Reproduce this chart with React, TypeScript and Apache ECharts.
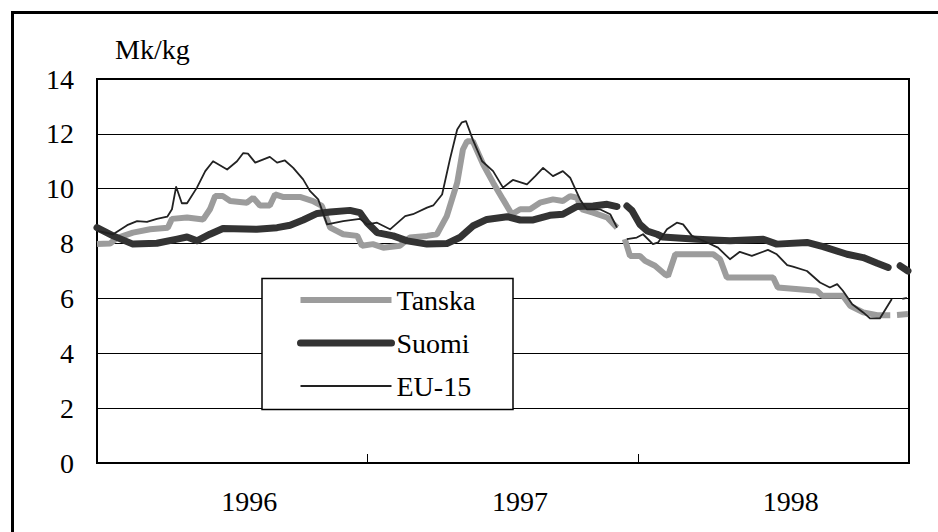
import React, { useEffect, useRef } from "react";
import * as echarts from "echarts";

// x positions are in weeks from the start of 1996 (156 weeks = 3 years)
const yearLabels = ["1996", "1997", "1998"];
const seriesNames = ["Tanska", "Suomi", "EU-15"];

const tanskaWeeks = [0, 2.5, 3.8, 6.9, 10.2, 13.6, 14.4, 17.3, 20.4, 21.7, 22.7, 24.2, 25.6, 28.8, 30.0, 31.3, 33.2, 34.2, 35.7, 39.0, 41.5, 43.2, 44.8, 47.3, 50.0, 50.9, 53.0, 55.0, 58.2, 60.1, 63.4, 65.3, 67.2, 69.2, 70.3, 71.1, 72.2, 74.2, 76.1, 78.0, 79.7, 81.3, 83.2, 85.1, 87.6, 89.5, 90.9, 92.2, 93.2, 95.3, 98.0, 99.9, 100.7, 101.4, 102.4, 104.3, 105.3, 107.2, 109.1, 109.7, 111.1, 118.4, 119.7, 121.0, 129.9, 130.8, 138.3, 139.3, 143.3, 144.7, 147.2, 149.9, 152.4, 153.0, 153.7, 155.8];
const tanskaValues = [7.98, 8.0, 8.2, 8.4, 8.52, 8.58, 8.9, 8.95, 8.88, 9.25, 9.73, 9.73, 9.55, 9.49, 9.67, 9.39, 9.39, 9.79, 9.7, 9.7, 9.55, 9.37, 8.58, 8.34, 8.28, 7.92, 7.98, 7.85, 7.92, 8.22, 8.28, 8.34, 9.0, 10.22, 11.43, 11.73, 11.73, 10.88, 10.22, 9.61, 9.07, 9.25, 9.25, 9.49, 9.61, 9.55, 9.73, 9.67, 9.25, 9.13, 8.95, 8.58, null, 8.16, 7.55, 7.55, 7.37, 7.19, 6.88, 6.82, 7.61, 7.61, 7.43, 6.76, 6.76, 6.4, 6.28, 6.1, 6.1, 5.73, 5.49, 5.39, 5.39, null, 5.4, 5.43];

const suomiWeeks = [0, 3.1, 6.9, 11.5, 15.4, 17.3, 19.2, 21.7, 24.2, 30.7, 34.6, 37.1, 39.6, 42.3, 44.8, 48.6, 50.5, 51.9, 53.8, 56.9, 59.6, 63.4, 67.2, 69.7, 72.2, 74.9, 78.8, 81.3, 83.8, 87.0, 89.5, 92.2, 95.3, 98.0, 99.9, 100.9, 101.8, 102.8, 104.3, 105.7, 107.6, 108.7, 115.3, 121.6, 128.0, 130.6, 136.4, 139.5, 144.1, 147.2, 149.9, 152.0, 153.1, 154.3, 155.8];
const suomiValues = [8.58, 8.28, 7.98, 8.01, 8.16, 8.24, 8.1, 8.34, 8.55, 8.52, 8.58, 8.67, 8.86, 9.1, 9.15, 9.21, 9.13, 8.76, 8.4, 8.28, 8.1, 7.98, 8.0, 8.22, 8.64, 8.88, 8.98, 8.86, 8.86, 9.03, 9.07, 9.35, 9.37, 9.43, 9.35, null, 9.37, 9.2, 8.7, 8.46, 8.34, 8.24, 8.16, 8.1, 8.16, 7.98, 8.04, 7.89, 7.61, 7.49, 7.28, 7.13, null, 7.19, 7.0];

const euWeeks = [0, 3.1, 5.8, 7.7, 9.6, 11.5, 13.5, 14.4, 15.2, 16.3, 17.3, 19.2, 20.8, 22.3, 25.0, 26.9, 28.1, 29.0, 30.4, 33.2, 34.6, 36.1, 37.7, 39.6, 40.9, 42.5, 44.2, 47.3, 50.5, 51.9, 53.8, 56.3, 59.2, 60.7, 63.4, 64.6, 66.3, 67.8, 69.2, 70.1, 70.9, 72.2, 74.0, 76.1, 78.0, 79.9, 82.6, 84.2, 85.7, 87.6, 89.5, 90.9, 92.8, 94.1, 96.6, 98.6, 99.9, 100.9, 101.8, 103.7, 104.9, 106.8, 107.8, 109.5, 111.4, 112.6, 114.3, 117.2, 119.3, 121.6, 123.5, 125.8, 128.9, 130.6, 132.6, 133.7, 136.4, 138.9, 140.8, 142.2, 143.3, 145.1, 147.2, 148.5, 150.4, 152.7, 153.7, 154.7, 155.6];
const euValues = [8.46, 8.34, 8.67, 8.82, 8.79, 8.9, 8.98, 9.25, 10.07, 9.47, 9.47, 10.04, 10.64, 11.0, 10.7, 11.0, 11.3, 11.28, 10.95, 11.16, 10.95, 11.03, 10.76, 10.34, 9.92, 9.61, 8.7, 8.82, 8.9, 8.7, 8.76, 8.52, 9.0, 9.07, 9.31, 9.39, 9.79, 11.07, 12.16, 12.42, 12.46, 11.79, 11.0, 10.64, 10.04, 10.32, 10.16, 10.46, 10.76, 10.46, 10.64, 10.4, 9.61, 9.25, 9.25, 9.07, 8.58, null, 8.16, 8.22, 8.34, 7.98, 8.04, 8.52, 8.76, 8.7, 8.28, 8.04, 7.85, 7.43, 7.7, 7.55, 7.77, 7.61, 7.21, 7.16, 7.0, 6.58, 6.4, 6.52, 6.28, 5.79, 5.49, 5.27, 5.27, 5.98, null, 5.98, 6.02];

const zip = (w: number[], v: (number | null)[]) =>
  w.map((x, i) => [x, v[i] === null ? "-" : v[i]]);

const FONT = "'Liberation Serif', 'Times New Roman', serif";

export default function App() {
  const ref = useRef<HTMLDivElement>(null);
  useEffect(() => {
    if (!ref.current) return;
    const chart = echarts.init(ref.current, null, { renderer: "svg" });
    chart.setOption({
      animation: false,
      backgroundColor: "#fff",
      textStyle: { fontFamily: FONT, color: "#000" },
      grid: {
        left: 97,
        top: 79,
        width: 812,
        height: 384,
        show: true,
        borderColor: "#000",
        borderWidth: 2,
        backgroundColor: "transparent",
      },
      xAxis: [
        {
          type: "value",
          min: 0,
          max: 156,
          interval: 52,
          axisLine: { show: true, lineStyle: { color: "#000", width: 2 } },
          axisTick: { show: true, inside: true, length: 9, lineStyle: { color: "#000", width: 1 } },
          axisLabel: { show: false },
          splitLine: { show: false },
        },
        {
          type: "category",
          position: "bottom",
          data: yearLabels,
          boundaryGap: true,
          axisLine: { show: false },
          axisTick: { show: false },
          splitLine: { show: false },
          axisLabel: {
            fontSize: 28,
            fontFamily: FONT,
            color: "#000",
            margin: 24,
            padding: [0, 0, 0, 34],
          },
        },
      ],
      yAxis: {
        type: "value",
        min: 0,
        max: 14,
        interval: 2,
        name: "Mk/kg",
        nameLocation: "end",
        nameGap: 16,
        nameTextStyle: { fontSize: 28, fontFamily: FONT, color: "#000", align: "left", padding: [0, 0, 0, 18] },
        axisLine: { show: true, lineStyle: { color: "#000", width: 2 } },
        axisTick: { show: false },
        axisLabel: { fontSize: 28, fontFamily: FONT, color: "#000", margin: 23 },
        splitLine: { show: true, lineStyle: { color: "#000", width: 1 } },
      },
      legend: {
        data: seriesNames,
        orient: "vertical",
        left: 297,
        top: 285,
        padding: 0,
        itemWidth: 91,
        itemHeight: 30,
        itemGap: 13,
        z: 20,
        itemStyle: { opacity: 0 },
        lineStyle: { width: "inherit", opacity: 1 },
        textStyle: { fontSize: 28, fontFamily: FONT, color: "#000", lineHeight: 30 },
      },
      graphic: [
        {
          type: "rect",
          z: 10,
          shape: { x: 262, y: 278.5, width: 251, height: 131 },
          style: { fill: "#fff", stroke: "#000", lineWidth: 1.5 },
        },
        {
          type: "rect",
          z: 1,
          silent: true,
          shape: { x: 12.5, y: 12.5, width: 1000, height: 600 },
          style: { fill: "none", stroke: "#000", lineWidth: 3 },
        },
      ],
      series: [
        {
          name: "Tanska",
          type: "line",
          data: zip(tanskaWeeks, tanskaValues),
          showSymbol: false,
          symbol: "none",
          connectNulls: false,
          color: "#9c9c9c",
          lineStyle: { color: "#9c9c9c", width: 6, cap: "butt", join: "bevel" },
          z: 2,
        },
        {
          name: "Suomi",
          type: "line",
          data: zip(suomiWeeks, suomiValues),
          showSymbol: false,
          symbol: "none",
          connectNulls: false,
          color: "#333333",
          lineStyle: { color: "#333333", width: 7, cap: "round", join: "round" },
          z: 3,
        },
        {
          name: "EU-15",
          type: "line",
          data: zip(euWeeks, euValues),
          showSymbol: false,
          symbol: "none",
          connectNulls: false,
          color: "#222222",
          lineStyle: { color: "#222222", width: 1.8, join: "round" },
          z: 4,
        },
      ],
    });
    return () => chart.dispose();
  }, []);
  return (
    <div
      ref={ref}
      style={{ position: "fixed", left: 0, top: 0, width: 938, height: 532, background: "#fff" }}
    />
  );
}
